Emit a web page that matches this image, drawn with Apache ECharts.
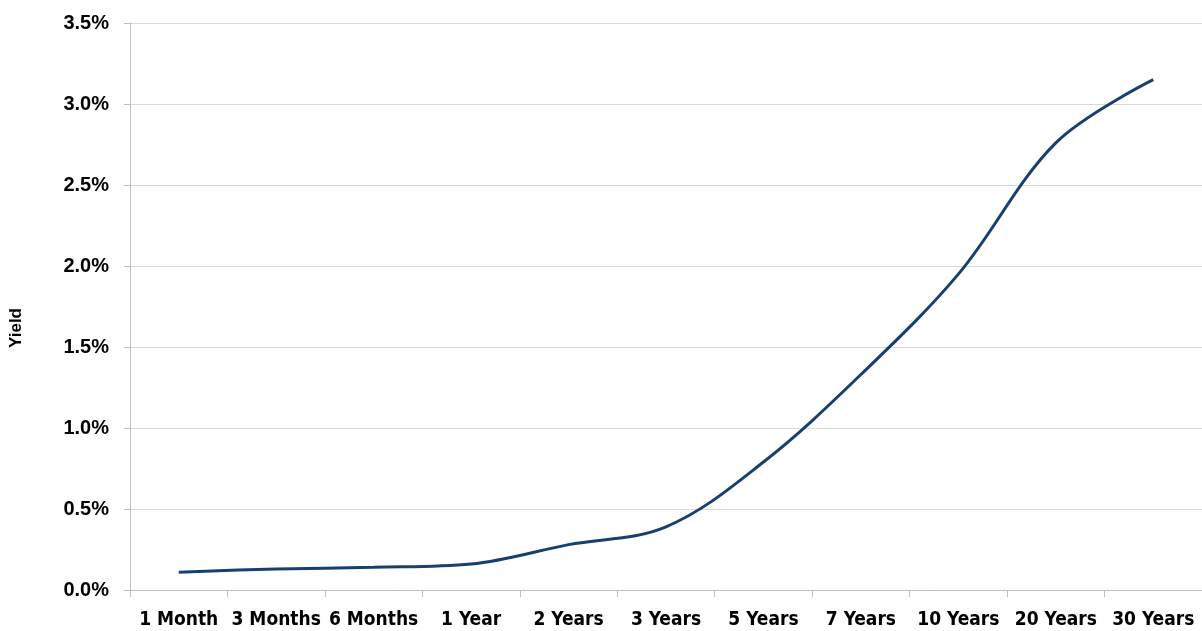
<!DOCTYPE html>
<html>
<head>
<meta charset="utf-8">
<script src="https://cdn.jsdelivr.net/npm/echarts@6/dist/echarts.min.js"></script>
<style>
html,body{margin:0;padding:0;background:#fff;}
#c{width:1202px;height:631px;}
</style>
</head>
<body>
<div id="c"></div>
<script>
var categories = ['1 Month','3 Months','6 Months','1 Year','2 Years','3 Years','5 Years','7 Years','10 Years','20 Years','30 Years'];
var yields = [0.11, 0.13, 0.14, 0.16, 0.28, 0.39, 0.79, 1.33, 1.95, 2.76, 3.15];
var yTicks = [0, 0.5, 1.0, 1.5, 2.0, 2.5, 3.0, 3.5];
var yAxisTitle = 'Yield';

var chart = echarts.init(document.getElementById('c'), null, {renderer:'canvas'});
chart.setOption({
  animation: false,
  backgroundColor: '#ffffff',
  grid: {left: 130, right: 0, top: 23, bottom: 41, containLabel: false},
  graphic: [{
    type: 'text',
    x: 16, y: 328,
    rotation: Math.PI / 2,
    style: {
      text: yAxisTitle,
      fill: '#000',
      font: 'bold 17px "Liberation Sans", Arial, sans-serif',
      textAlign: 'center',
      textVerticalAlign: 'middle'
    }
  }],
  xAxis: {
    type: 'category',
    data: categories,
    boundaryGap: true,
    axisLine: {show: true, lineStyle: {color: '#bfbfbf', width: 1}},
    axisTick: {show: true, length: 7, lineStyle: {color: '#bfbfbf'}},
    axisLabel: {
      interval: 0, margin: 21, color: '#000',
      fontFamily: '"DejaVu Sans Condensed", "Liberation Sans Narrow", sans-serif',
      fontWeight: 'bold', fontSize: 19
    },
    splitLine: {show: false}
  },
  yAxis: {
    type: 'value',
    min: yTicks[0], max: yTicks[yTicks.length-1], interval: 0.5,
    axisLine: {show: true, lineStyle: {color: '#bfbfbf', width: 1}},
    axisTick: {show: true, length: 6, lineStyle: {color: '#bfbfbf'}},
    axisLabel: {
      margin: 21, color: '#000',
      fontFamily: '"Liberation Sans", Arial, sans-serif', fontWeight: 'bold', fontSize: 20,
      formatter: function(v){ return v.toFixed(1) + '%'; }
    },
    splitLine: {show: true, lineStyle: {color: '#d9d9d9', width: 1}}
  },
  series: [{
    type: 'line',
    data: yields,
    smooth: 0.35,
    symbol: 'none',
    lineStyle: {color: '#17406e', width: 3}
  }]
});
</script>
</body>
</html>
